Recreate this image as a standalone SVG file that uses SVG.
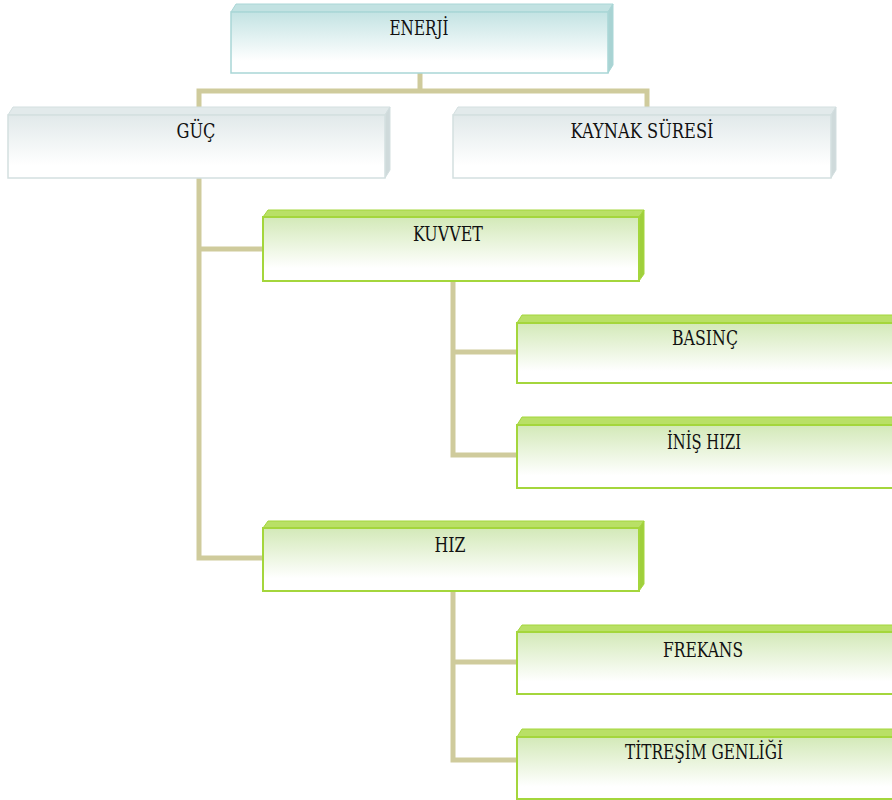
<svg xmlns="http://www.w3.org/2000/svg" width="892" height="800" viewBox="0 0 892 800">
  <style>
    .lbl { font-family: "DejaVu Serif", "Liberation Serif", serif; font-size: 21px; fill: #111; text-anchor: middle; }
    .wire { fill: none; stroke: #cfcb9c; stroke-width: 5; stroke-linejoin: miter; }
    .teal .face { fill: url(#gTeal); stroke: #a9d6d6; stroke-width: 1.5; }
    .teal .top { fill: #c2e2e2; stroke: #a9d6d6; stroke-width: 1; }
    .teal .side { fill: #a9d3d3; stroke: #a9d6d6; stroke-width: 1; }
    .grey .face { fill: url(#gGrey); stroke: #d3dfe0; stroke-width: 1.5; }
    .grey .top { fill: #e2eaeb; stroke: #d3dfe0; stroke-width: 1; }
    .grey .side { fill: #cfdadb; stroke: #d3dfe0; stroke-width: 1; }
    .green .face { fill: url(#gGreen); stroke: #a4d63c; stroke-width: 2; }
    .green .top { fill: #b9e066; stroke: #a4d63c; stroke-width: 1; }
    .green .side { fill: #9fcf3c; stroke: #a4d63c; stroke-width: 1; }
  </style>
  <defs>
    <linearGradient id="gTeal" x1="0" y1="0" x2="0" y2="1">
      <stop offset="0" stop-color="#c3e3e3"/>
      <stop offset="0.8" stop-color="#ffffff"/>
    </linearGradient>
    <linearGradient id="gGrey" x1="0" y1="0" x2="0" y2="1">
      <stop offset="0" stop-color="#e1e9ea"/>
      <stop offset="0.8" stop-color="#ffffff"/>
    </linearGradient>
    <linearGradient id="gGreen" x1="0" y1="0" x2="0" y2="1">
      <stop offset="0" stop-color="#d3e9b8"/>
      <stop offset="0.8" stop-color="#ffffff"/>
    </linearGradient>
  </defs>

  <!-- tree connectors, drawn under the boxes -->
  <g id="connectors" class="wire">
    <path d="M420,73 V91"/>
    <path d="M199,115 V91 H647 V109"/>
    <path d="M199,178 V558 H265"/>
    <path d="M199,249 H265"/>
    <path d="M453,281 V455 H519"/>
    <path d="M453,352 H519"/>
    <path d="M453,591 V760 H519"/>
    <path d="M453,662 H519"/>
  </g>

  <!-- each box: front face plus a thin bevelled top and right side -->
  <g id="enerji" class="teal">
    <polygon class="top" points="231,12 236,4 613,4 608,12"/>
    <polygon class="side" points="608,12 613,4 613,65 608,73"/>
    <rect class="face" x="231" y="12" width="377" height="61"/>
    <text class="lbl" x="419" y="35" textLength="59" lengthAdjust="spacingAndGlyphs">ENERJİ</text>
  </g>

  <g id="guc" class="grey">
    <polygon class="top" points="8,115 13,107 390,107 385,115"/>
    <polygon class="side" points="385,115 390,107 390,170 385,178"/>
    <rect class="face" x="8" y="115" width="377" height="63"/>
    <text class="lbl" x="196" y="138" textLength="39" lengthAdjust="spacingAndGlyphs">GÜÇ</text>
  </g>

  <g id="kaynak-suresi" class="grey">
    <polygon class="top" points="453,115 458,107 836,107 831,115"/>
    <polygon class="side" points="831,115 836,107 836,170 831,178"/>
    <rect class="face" x="453" y="115" width="378" height="63"/>
    <text class="lbl" x="642" y="138" textLength="143" lengthAdjust="spacingAndGlyphs">KAYNAK SÜRESİ</text>
  </g>

  <g id="kuvvet" class="green">
    <polygon class="top" points="263,217 268,210 644,210 639,217"/>
    <polygon class="side" points="639,217 644,210 644,274 639,281"/>
    <rect class="face" x="263" y="217" width="376" height="64"/>
    <text class="lbl" x="448" y="241" textLength="70" lengthAdjust="spacingAndGlyphs">KUVVET</text>
  </g>

  <g id="basinc" class="green">
    <polygon class="top" points="517,323 522,315 899,315 894,323"/>
    <rect class="face" x="517" y="323" width="377" height="60"/>
    <text class="lbl" x="705" y="345" textLength="66" lengthAdjust="spacingAndGlyphs">BASINÇ</text>
  </g>

  <g id="inis-hizi" class="green">
    <polygon class="top" points="517,425 522,417 899,417 894,425"/>
    <rect class="face" x="517" y="425" width="377" height="63"/>
    <text class="lbl" x="704" y="449" textLength="74" lengthAdjust="spacingAndGlyphs">İNİŞ HIZI</text>
  </g>

  <g id="hiz" class="green">
    <polygon class="top" points="263,528 268,521 644,521 639,528"/>
    <polygon class="side" points="639,528 644,521 644,584 639,591"/>
    <rect class="face" x="263" y="528" width="376" height="63"/>
    <text class="lbl" x="450" y="552" textLength="31" lengthAdjust="spacingAndGlyphs">HIZ</text>
  </g>

  <g id="frekans" class="green">
    <polygon class="top" points="517,632 522,625 899,625 894,632"/>
    <rect class="face" x="517" y="632" width="377" height="62"/>
    <text class="lbl" x="703" y="657" textLength="80" lengthAdjust="spacingAndGlyphs">FREKANS</text>
  </g>

  <g id="titresim-genligi" class="green">
    <polygon class="top" points="517,737 522,729 899,729 894,737"/>
    <rect class="face" x="517" y="737" width="377" height="62"/>
    <text class="lbl" x="704" y="759" textLength="158" lengthAdjust="spacingAndGlyphs">TİTREŞİM GENLİĞİ</text>
  </g>
</svg>
